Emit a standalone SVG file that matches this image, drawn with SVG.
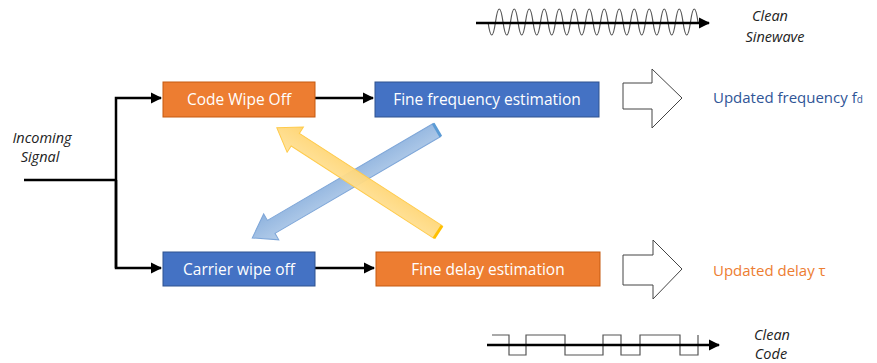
<svg xmlns="http://www.w3.org/2000/svg" width="877" height="363" viewBox="0 0 877 363">
  <defs>
    <style>
      .box-o { fill: #ED7D31; stroke: #C55A11; stroke-width: 1; }
      .box-b { fill: #4472C4; stroke: #2F528F; stroke-width: 1; }
      .lbl { font-family: "Open Sans", "Noto Sans", sans-serif; font-size: 15.5px; fill: #ffffff; text-anchor: middle; }
      .note { font-family: "Open Sans", "Noto Sans", sans-serif; font-size: 14.5px; font-style: italic; fill: #222; text-anchor: middle; }
      .out { font-family: "Open Sans", "Noto Sans", sans-serif; font-size: 15px; }
      .wire { fill: none; stroke: #000; stroke-width: 2.5; }
      .axis { fill: none; stroke: #000; stroke-width: 2.5; }
      .wave { fill: none; stroke: #555; stroke-width: 1.2; }
      .block { fill: #fff; stroke: #444; stroke-width: 1; }
    </style>
    <marker id="head" viewBox="0 0 10 10" refX="9" refY="5" markerWidth="4.5" markerHeight="4.5" orient="auto" markerUnits="strokeWidth">
      <path d="M0,0 L10,5 L0,10 z" fill="#000"/>
    </marker>
    <linearGradient id="blueFill" x1="0" y1="0" x2="0" y2="1">
      <stop offset="0" stop-color="#B4CDEA"/>
      <stop offset="1" stop-color="#8FB3DE"/>
    </linearGradient>
    <linearGradient id="yellowFill" x1="0" y1="0" x2="0" y2="1">
      <stop offset="0" stop-color="#FFE29A"/>
      <stop offset="1" stop-color="#FFD36E"/>
    </linearGradient>
  </defs>

  <!-- connectors -->
  <g id="connectors">
    <path class="wire" d="M24,180 H116"/>
    <path class="wire" d="M116,268 V98 H161" marker-end="url(#head)"/>
    <path class="wire" d="M116,180 V268 H161" marker-end="url(#head)"/>
    <path class="wire" d="M315,98 H373" marker-end="url(#head)"/>
    <path class="wire" d="M315,268 H374" marker-end="url(#head)"/>
    <!-- feedback arrows crossing between the two branches -->
    <g id="feedback-blue" transform="translate(437,130) rotate(149.7)">
      <path d="M0,-7.5 H192 V-15 L214,0 L192,15 V7.5 H0 Z" fill="url(#blueFill)" stroke="#7EA6D8" stroke-width="1"/>
      <path d="M0,-7.5 V7.5" stroke="#5B9BD5" stroke-width="3"/>
    </g>
    <g id="feedback-yellow" transform="translate(438,232) rotate(-147.1)">
      <path d="M0,-7.5 H170 V-15 L192,0 L170,15 V7.5 H0 Z" fill="url(#yellowFill)" fill-opacity="0.95" stroke="#FFCB4C" stroke-width="1"/>
      <path d="M0,-7.5 V7.5" stroke="#FFC000" stroke-width="3"/>
    </g>
  </g>

  <g id="incoming">
    <text class="note" x="42" y="143">Incoming</text>
    <text class="note" x="40" y="162">Signal</text>
  </g>

  <g id="code-wipe-off">
    <rect class="box-o" x="163" y="82" width="152" height="35"/>
    <text class="lbl" x="239" y="105">Code Wipe Off</text>
  </g>
  <g id="fine-frequency">
    <rect class="box-b" x="375" y="82" width="224" height="35"/>
    <text class="lbl" x="487" y="105">Fine frequency estimation</text>
  </g>
  <g id="carrier-wipe-off">
    <rect class="box-b" x="163" y="252" width="152" height="34"/>
    <text class="lbl" x="239" y="275">Carrier wipe off</text>
  </g>
  <g id="fine-delay">
    <rect class="box-o" x="376" y="252" width="224" height="34"/>
    <text class="lbl" x="488" y="275">Fine delay estimation</text>
  </g>

  <g id="out-frequency">
    <path class="block" d="M623,83 H652 V69 L682,98 L652,128 V109 H623 Z"/>
    <text class="out" x="713" y="103" fill="#2F5597">Updated frequency f<tspan font-size="10">d</tspan></text>
  </g>
  <g id="out-delay">
    <path class="block" d="M623,255 H653 V240 L682,269 L653,299 V285 H623 Z"/>
    <text class="out" x="713" y="276" fill="#ED7D31">Updated delay τ</text>
  </g>

  <g id="clean-sinewave">
    <path class="wave" d="M488,22 q3.75,26 7.5,0 t7.5,0 t7.5,0 t7.5,0 t7.5,0 t7.5,0 t7.5,0 t7.5,0 t7.5,0 t7.5,0 t7.5,0 t7.5,0 t7.5,0 t7.5,0 t7.5,0 t7.5,0 t7.5,0 t7.5,0 t7.5,0 t7.5,0 t7.5,0 t7.5,0 t7.5,0 t7.5,0 t7.5,0 t7.5,0 t7.5,0 t7.5,0"/>
    <path class="axis" d="M476,23 H709" marker-end="url(#head)"/>
    <text class="note" x="770" y="21">Clean</text>
    <text class="note" x="775" y="42">Sinewave</text>
  </g>

  <g id="clean-code">
    <path class="wave" d="M492,335 H509 V355 H526 V335 H565 V355 H603 V335 H621 V355 H640 V335 H680 V355 H698 V335"/>
    <path class="axis" d="M487,345 H719" marker-end="url(#head)"/>
    <text class="note" x="772" y="340">Clean</text>
    <text class="note" x="771" y="359">Code</text>
  </g>
</svg>
